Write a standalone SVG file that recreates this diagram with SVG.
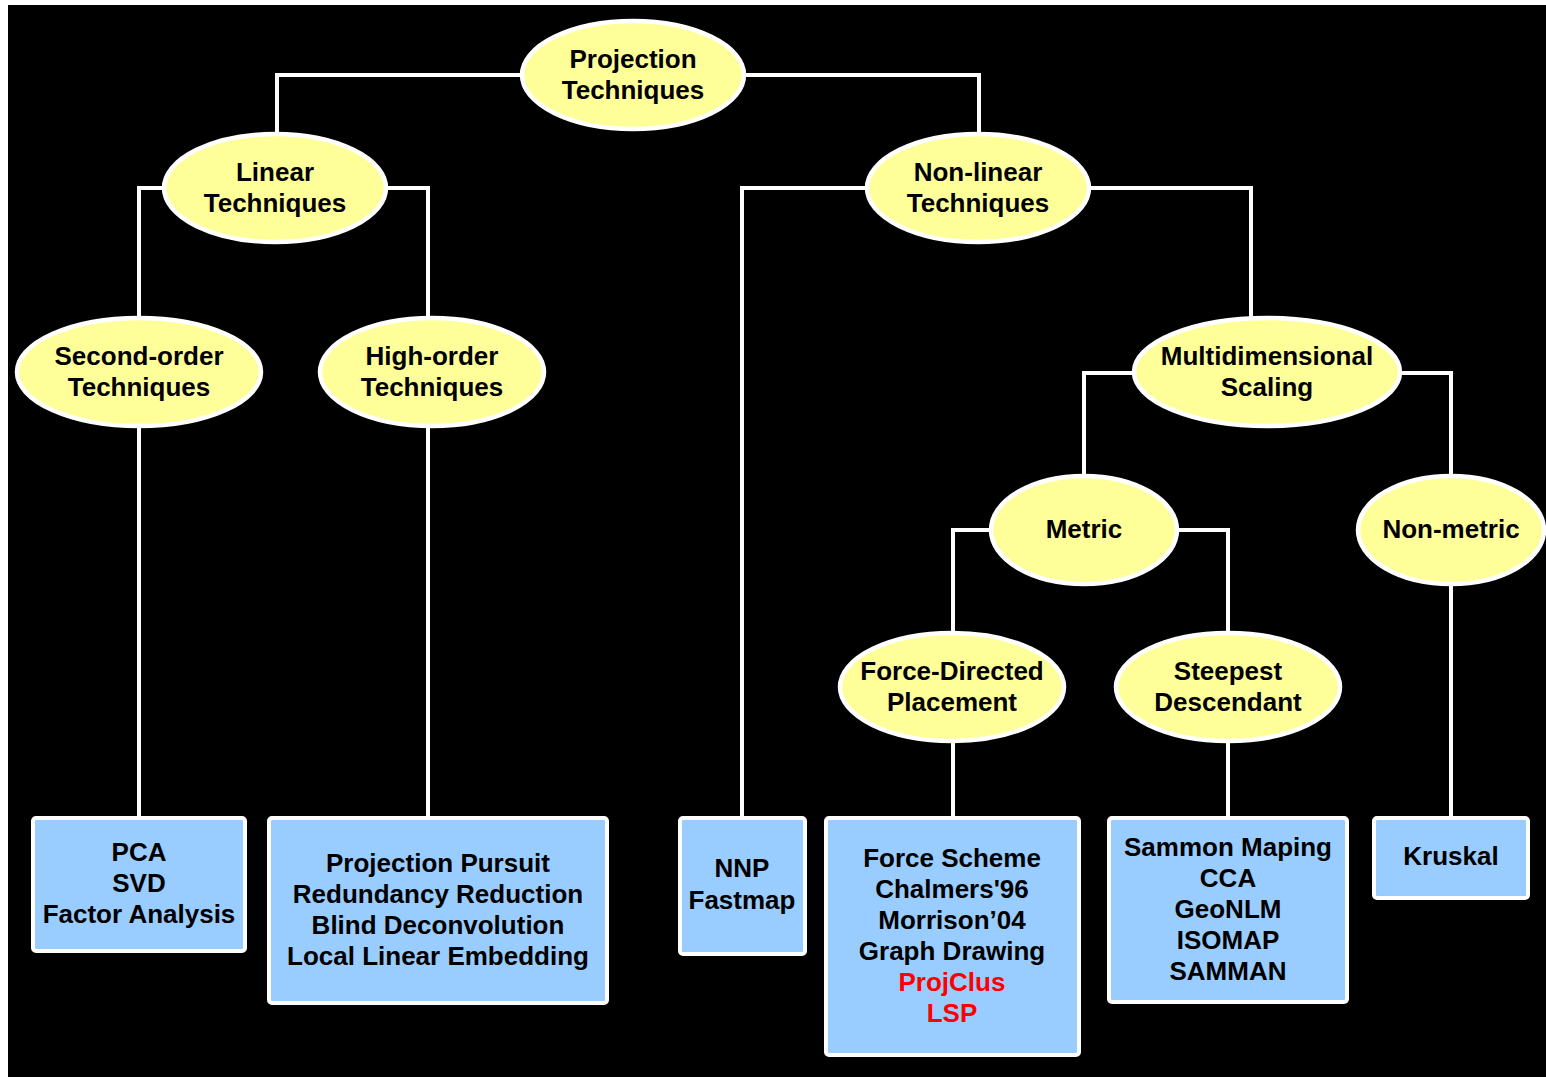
<svg xmlns="http://www.w3.org/2000/svg" width="1546" height="1077" viewBox="0 0 1546 1077">
<style>
.bg{fill:#000}
.ell{fill:#ffff99;stroke:#fff;stroke-width:4.5}
.box{fill:#99ccff;stroke:#fff;stroke-width:4}
.con{fill:none;stroke:#fff;stroke-width:4}
text{font-family:"Liberation Sans",Arial,sans-serif;font-weight:bold;font-size:26px;fill:#000;text-anchor:middle}
.red{fill:#ff0000}
</style>
<rect x="0" y="0" width="1546" height="1077" fill="#fff"/>
<rect class="bg" x="8" y="5" width="1538" height="1072"/>
<g id="connectors">
<polyline class="con" points="521,75 277,75 277,135"/>
<polyline class="con" points="745,75 979,75 979,135"/>
<polyline class="con" points="165,188 139,188 139,319"/>
<polyline class="con" points="386,188 428,188 428,319"/>
<polyline class="con" points="868,188 742,188 742,817"/>
<polyline class="con" points="1089,188 1251,188 1251,319"/>
<line class="con" x1="139" y1="427" x2="139" y2="817"/>
<line class="con" x1="428" y1="427" x2="428" y2="817"/>
<polyline class="con" points="1135,373 1084,373 1084,477"/>
<polyline class="con" points="1400,373 1451,373 1451,477"/>
<polyline class="con" points="992,530 953,530 953,633"/>
<polyline class="con" points="1176,530 1228,530 1228,633"/>
<line class="con" x1="953" y1="741" x2="953" y2="817"/>
<line class="con" x1="1228" y1="741" x2="1228" y2="817"/>
<line class="con" x1="1451" y1="584" x2="1451" y2="817"/>
</g>
<g id="projection">
<ellipse class="ell" cx="633" cy="75" rx="111" ry="54"/>
<text x="633" y="68">Projection</text>
<text x="633" y="99">Techniques</text>
</g>
<g id="linear">
<ellipse class="ell" cx="275" cy="188" rx="111" ry="54"/>
<text x="275" y="181">Linear</text>
<text x="275" y="212">Techniques</text>
</g>
<g id="nonlinear">
<ellipse class="ell" cx="978" cy="188" rx="111" ry="54"/>
<text x="978" y="181">Non-linear</text>
<text x="978" y="212">Techniques</text>
</g>
<g id="secondorder">
<ellipse class="ell" cx="139" cy="372" rx="122" ry="54"/>
<text x="139" y="365">Second-order</text>
<text x="139" y="396">Techniques</text>
</g>
<g id="highorder">
<ellipse class="ell" cx="432" cy="372" rx="112" ry="54"/>
<text x="432" y="365">High-order</text>
<text x="432" y="396">Techniques</text>
</g>
<g id="mds">
<ellipse class="ell" cx="1267" cy="372" rx="133" ry="54"/>
<text x="1267" y="365">Multidimensional</text>
<text x="1267" y="396">Scaling</text>
</g>
<g id="metric">
<ellipse class="ell" cx="1084" cy="530" rx="93" ry="54"/>
<text x="1084" y="538">Metric</text>
</g>
<g id="nonmetric">
<ellipse class="ell" cx="1451" cy="530" rx="93" ry="54"/>
<text x="1451" y="538">Non-metric</text>
</g>
<g id="forcedirected">
<ellipse class="ell" cx="952" cy="687" rx="112" ry="54"/>
<text x="952" y="680">Force-Directed</text>
<text x="952" y="711">Placement</text>
</g>
<g id="steepest">
<ellipse class="ell" cx="1228" cy="687" rx="112" ry="54"/>
<text x="1228" y="680">Steepest</text>
<text x="1228" y="711">Descendant</text>
</g>
<g id="box-pca">
<rect class="box" x="33" y="818" width="212" height="133" rx="3"/>
<text x="139" y="861">PCA</text>
<text x="139" y="892">SVD</text>
<text x="139" y="923">Factor Analysis</text>
</g>
<g id="box-pp">
<rect class="box" x="269" y="818" width="338" height="185" rx="3"/>
<text x="438" y="872">Projection Pursuit</text>
<text x="438" y="903">Redundancy Reduction</text>
<text x="438" y="934">Blind Deconvolution</text>
<text x="438" y="965">Local Linear Embedding</text>
</g>
<g id="box-nnp">
<rect class="box" x="680" y="818" width="125" height="136" rx="3"/>
<text x="742" y="877">NNP</text>
<text x="742" y="909">Fastmap</text>
</g>
<g id="box-force">
<rect class="box" x="826" y="818" width="253" height="237" rx="3"/>
<text x="952" y="867">Force Scheme</text>
<text x="952" y="898">Chalmers'96</text>
<text x="952" y="929">Morrison’04</text>
<text x="952" y="960">Graph Drawing</text>
<text class="red" x="952" y="991">ProjClus</text>
<text class="red" x="952" y="1022">LSP</text>
</g>
<g id="box-sammon">
<rect class="box" x="1109" y="818" width="238" height="184" rx="3"/>
<text x="1228" y="856">Sammon Maping</text>
<text x="1228" y="887">CCA</text>
<text x="1228" y="918">GeoNLM</text>
<text x="1228" y="949">ISOMAP</text>
<text x="1228" y="980">SAMMAN</text>
</g>
<g id="box-kruskal">
<rect class="box" x="1374" y="818" width="154" height="80" rx="3"/>
<text x="1451" y="865">Kruskal</text>
</g>
</svg>
